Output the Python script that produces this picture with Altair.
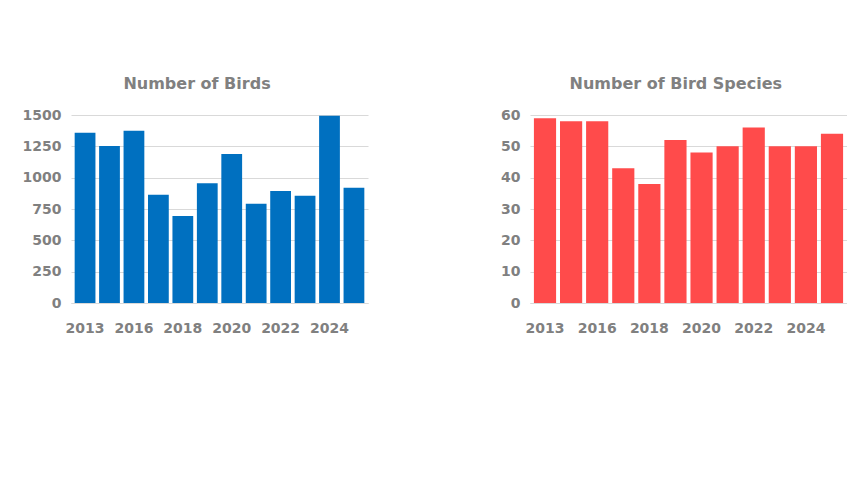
import altair as alt
import pandas as pd

years = ["2013", "2014", "2016", "2017", "2018", "2019", "2020", "2021", "2022", "2023", "2024", "2025"]
birds = [1359, 1252, 1375, 863, 695, 956, 1188, 791, 893, 855, 1495, 919]
species = [59, 58, 58, 43, 38, 52, 48, 50, 56, 50, 50, 54]
shown_years = ["2013", "2016", "2018", "2020", "2022", "2024"]
bird_ticks = [0, 250, 500, 750, 1000, 1250, 1500]
species_ticks = [0, 10, 20, 30, 40, 50, 60]

df = pd.DataFrame({"year": years, "birds": birds, "species": species})

FONT = "DejaVu Sans"
GRAY = "#808080"


def panel(field, title, color, ticks, width):
    return (
        alt.Chart(df)
        .mark_bar(color=color)
        .encode(
            x=alt.X(
                "year:N",
                sort=years,
                scale=alt.Scale(paddingInner=0.15, paddingOuter=0.15),
                axis=alt.Axis(
                    title=None, values=shown_years, labelAngle=0, ticks=False,
                    domain=True, domainColor="#d9d9d9", labelPadding=18,
                    labelFont=FONT, labelFontSize=14, labelFontWeight="bold",
                    labelColor=GRAY,
                ),
            ),
            y=alt.Y(
                f"{field}:Q",
                scale=alt.Scale(domain=[ticks[0], ticks[-1]], nice=False),
                axis=alt.Axis(
                    title=None, values=ticks, ticks=False, domain=False,
                    grid=True, gridColor="#d9d9d9", labelPadding=10, format="d",
                    labelFont=FONT, labelFontSize=14, labelFontWeight="bold",
                    labelColor=GRAY,
                ),
            ),
        )
        .properties(
            width=width, height=188,
            title=alt.TitleParams(
                text=title, font=FONT, fontSize=16, fontWeight="bold",
                color=GRAY, anchor="middle", frame="bounds", offset=16, dx=2,
            ),
        )
    )


left = panel("birds", "Number of Birds", "#0070C0", bird_ticks, 297)
right = panel("species", "Number of Bird Species", "#FF4B4B", species_ticks, 317)

chart = (
    alt.hconcat(left, right, spacing=132)
    .properties(padding={"left": 14, "top": 68, "right": 0, "bottom": 0})
    .configure_view(stroke=None)
)

chart.save("out.html", embed_options={"renderer": "svg", "actions": False})
